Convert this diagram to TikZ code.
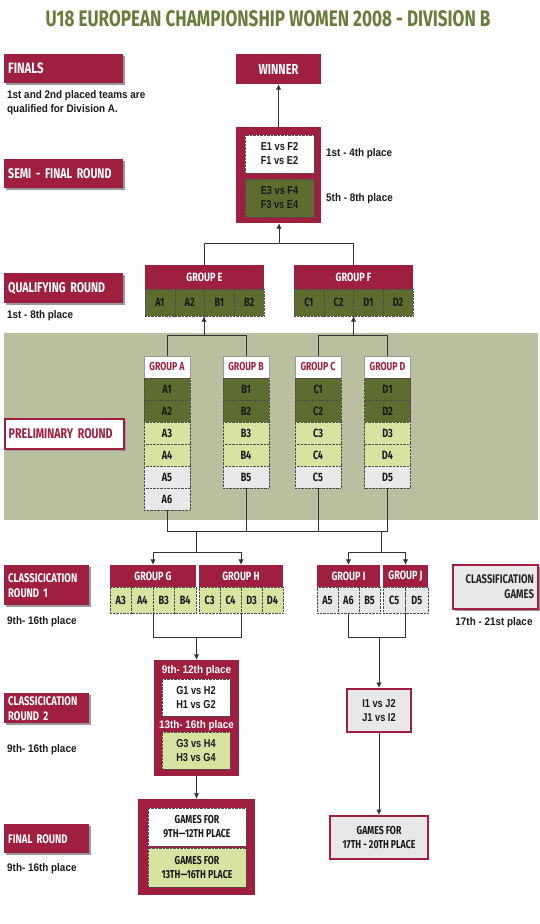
\documentclass[tikz,border=0pt]{standalone}
\usepackage{fontspec}
\newfontfamily\headfont[FakeStretch=0.76]{Fira Sans}
\newfontfamily\notefont[FakeStretch=0.9]{Liberation Sans}
\newfontfamily\vsfont[FakeStretch=0.8]{Liberation Sans}
\usetikzlibrary{arrows.meta, shadows}
\definecolor{crimson}{HTML}{9E1F40}
\definecolor{olivedk}{HTML}{5E6C2F}
\definecolor{titlegreen}{HTML}{6A7B3A}
\definecolor{lightgreen}{HTML}{D7E4A1}
\definecolor{bandgreen}{HTML}{B9BF9F}
\definecolor{lightgray}{HTML}{E8E8E8}

\begin{document}
\begin{tikzpicture}[x=1pt, y=-1pt,
    conn/.style={draw=black!80, line width=0.9pt},
    arr/.style={conn, -{Latex[length=5.5pt,width=5.5pt]}},
    lbl/.style={anchor=north west, fill=crimson, text=white, align=left,
        font=\headfont\bfseries\fontsize{14}{15}\selectfont, inner xsep=4pt, inner ysep=0pt,
        drop shadow={shadow xshift=2pt, shadow yshift=-2pt, fill=black!40, opacity=1}},
    note/.style={font=\notefont\bfseries\fontsize{11}{14}\selectfont, text=black!90, inner sep=0pt},
    redbox/.style={fill=crimson, text=white, font=\headfont\bfseries\fontsize{12}{13}\selectfont, inner sep=0pt},
    grphead/.style={draw=black!40, fill=white, text=crimson, font=\headfont\bfseries\fontsize{11.5}{12}\selectfont,
        inner sep=0pt, minimum height=22pt},
    cell/.style={draw=black!70, densely dotted, line width=0.4pt, text=black!90,
        font=\headfont\bfseries\fontsize{12}{12}\selectfont, inner sep=0pt, minimum height=22pt},
    inbox/.style={draw=black!70, densely dotted, line width=0.4pt, text=black!90, align=center,
        font=\vsfont\bfseries\fontsize{11.5}{14}\selectfont, inner sep=0pt},
    gamebox/.style={draw=black!70, densely dotted, line width=0.4pt, text=black!90, align=center,
        font=\headfont\bfseries\fontsize{11.5}{14}\selectfont, inner sep=0pt},
    row1/.style={fill=olivedk}, row2/.style={fill=olivedk},
    row3/.style={fill=lightgreen}, row4/.style={fill=lightgreen},
    row5/.style={fill=lightgray}, row6/.style={fill=lightgray}]
    \useasboundingbox (0,0) rectangle (540,924);
    % preliminary background band
    \fill[bandgreen] (4,333) rectangle (538,520);

    \node[font=\headfont\bfseries\fontsize{22.5}{24}\selectfont, text=titlegreen, inner sep=0pt] (title)
        at (268,19) {U18 EUROPEAN CHAMPIONSHIP WOMEN 2008 - DIVISION B};

    % round labels on the left
    \node[lbl, minimum width=119pt, minimum height=29pt, text width=111pt,
        font=\headfont\bfseries\fontsize{15}{15}\selectfont] (finalslbl) at (4,54) {FINALS};
    \node[note, anchor=north west, align=left] (finalsnote) at (7,90) {1st and 2nd placed teams are\\qualified for Division A.};
    \node[lbl, minimum width=119pt, minimum height=29pt, text width=111pt] (semilbl) at (4,159) {SEMI - FINAL ROUND};
    \node[lbl, minimum width=119pt, minimum height=30pt, text width=111pt] (qualilbl) at (4,273) {QUALIFYING ROUND};
    \node[note, anchor=west] (qualinote) at (7,316) {1st - 8th place};
    \node[lbl, fill=white, draw=crimson, line width=1.5pt, text=crimson, minimum width=119pt, minimum height=30pt,
        text width=111pt] (prelimlbl) at (4,418) {PRELIMINARY ROUND};
    \node[lbl, minimum width=85pt, minimum height=40pt, text width=77pt,
        font=\headfont\bfseries\fontsize{12.5}{15}\selectfont] (class1lbl) at (4,565) {CLASSICICATION\\ROUND 1};
    \node[note, anchor=west] (class1note) at (7,622) {9th- 16th place};
    \node[lbl, minimum width=85pt, minimum height=30pt, text width=77pt,
        font=\headfont\bfseries\fontsize{12.5}{15}\selectfont] (class2lbl) at (4,693) {CLASSICICATION\\ROUND 2};
    \node[note, anchor=west] (class2note) at (7,750) {9th- 16th place};
    \node[lbl, minimum width=85pt, minimum height=29pt, text width=77pt,
        font=\headfont\bfseries\fontsize{12.5}{15}\selectfont] (finallbl) at (4,824) {FINAL ROUND};
    \node[note, anchor=west] (finalnote) at (7,869) {9th- 16th place};
    \node[lbl, fill=lightgray, draw=crimson, line width=2pt, text=black!85, minimum width=85pt, minimum height=44pt,
        text width=77pt, align=right, font=\headfont\bfseries\fontsize{12.5}{15}\selectfont] (classgames) at (452,564) {CLASSIFICATION\\GAMES};
    \node[note] (classnote) at (494,623) {17th - 21st place};

    % winner and semi finals
    \node[redbox, minimum width=85pt, minimum height=30pt, font=\headfont\bfseries\fontsize{14.5}{15}\selectfont] (winner)
        at (278.5,69) {WINNER};
    \node[redbox, minimum width=85pt, minimum height=96pt] (semi) at (278.5,175) {};
    \node[inbox, fill=white, minimum width=69pt, minimum height=38pt] (semitop) at (279.5,154) {E1 vs F2\\F1 vs E2};
    \node[inbox, fill=olivedk, minimum width=69pt, minimum height=38pt] (semibot) at (279.5,198) {E3 vs F4\\F3 vs E4};
    \node[note, anchor=west] (place14) at (326,154) {1st - 4th place};
    \node[note, anchor=west] (place58) at (326,199) {5th - 8th place};

    % qualifying round
    \node[redbox, minimum width=119pt, minimum height=24pt] (qE) at (204.5,277) {GROUP E};
    \foreach \t [count=\i] in {A1,A2,B1,B2}
        \node[cell, fill=olivedk, minimum width=29.75pt, minimum height=27pt] (qE\i) at ({145+29.75*(\i-0.5)},302.5) {\t};
    \node[redbox, minimum width=119pt, minimum height=24pt] (qF) at (353.5,277) {GROUP F};
    \foreach \t [count=\i] in {C1,C2,D1,D2}
        \node[cell, fill=olivedk, minimum width=29.75pt, minimum height=27pt] (qF\i) at ({294+29.75*(\i-0.5)},302.5) {\t};

    % preliminary round
    \foreach \g/\xc/\n in {A/167/6,B/246/5,C/318/5,D/387.5/5} {
        \node[grphead, minimum width=46pt] (p\g) at (\xc,367) {GROUP \g};
        \foreach \r in {1,...,\n}
            \node[cell, row\r, minimum width=46pt] (p\g\r) at (\xc,{367+22*\r}) {\g\r};
    }

    % classification round 1
    \node[redbox, minimum width=86pt, minimum height=22pt] (cG) at (153,576) {GROUP G};
    \foreach \t [count=\i] in {A3,A4,B3,B4}
        \node[cell, fill=lightgreen, minimum width=21.5pt, minimum height=26pt] (gG\i) at ({110+21.5*(\i-0.5)},600) {\t};
    \node[redbox, minimum width=84pt, minimum height=22pt] (cH) at (241,576) {GROUP H};
    \foreach \t [count=\i] in {C3,C4,D3,D4}
        \node[cell, fill=lightgreen, minimum width=21pt, minimum height=26pt] (gH\i) at ({199+21*(\i-0.5)},600) {\t};
    \node[redbox, minimum width=63pt, minimum height=22pt] (cI) at (348.5,576) {GROUP I};
    \foreach \t [count=\i] in {A5,A6,B5}
        \node[cell, fill=lightgray, minimum width=21pt, minimum height=26pt] (gI\i) at ({317+21*(\i-0.5)},600) {\t};
    \node[redbox, minimum width=45pt, minimum height=22pt] (cJ) at (405.5,576) {GROUP J};
    \foreach \t [count=\i] in {C5,D5}
        \node[cell, fill=lightgray, minimum width=22.5pt, minimum height=26pt] (gJ\i) at ({383+22.5*(\i-0.5)},600) {\t};

    % classification round 2
    \node[redbox, minimum width=85pt, minimum height=116pt] (round2) at (196.5,718) {};
    \node[note, text=white] (r2top) at (196.5,671) {9th- 12th place};
    \node[inbox, fill=white, minimum width=68pt, minimum height=37pt] (r2a) at (196,697.5) {G1 vs H2\\H1 vs G2};
    \node[note, text=white] (r2bot) at (196.5,726) {13th- 16th place};
    \node[inbox, fill=lightgreen, minimum width=68pt, minimum height=37pt] (r2b) at (196,750.5) {G3 vs H4\\H3 vs G4};
    \node[inbox, fill=lightgray, draw=crimson, solid, line width=2pt, minimum width=64pt, minimum height=43pt] (ijbox)
        at (379,710.5) {I1 vs J2\\J1 vs I2};

    % final round
    \node[redbox, minimum width=117pt, minimum height=96pt] (final) at (196.5,847) {};
    \node[gamebox, fill=white, minimum width=98pt, minimum height=38pt] (fin9) at (197,827) {GAMES FOR\\9TH—12TH PLACE};
    \node[gamebox, fill=lightgreen, minimum width=98pt, minimum height=39pt] (fin13) at (197,867.5) {GAMES FOR\\13TH—16TH PLACE};
    \node[gamebox, fill=lightgray, draw=crimson, solid, line width=2pt, minimum width=98pt, minimum height=43pt] (fin17)
        at (379,837.5) {GAMES FOR\\17TH - 20TH PLACE};

    % connectors, top part
    \draw[arr] (semi.north) -- (winner.south);
    \draw[conn] (qE.north) -- ++(0,-21) -| (qF.north);
    \coordinate (jEF) at (279,244);
    \draw[arr] (jEF) -- (jEF |- semi.south);
    \draw[conn] (pA.north) -- ++(0,-20) -| (pB.north);
    \coordinate (jAB) at (204,336);
    \draw[arr] (jAB) -- (jAB |- qE2.south);
    \draw[conn] (pC.north) -- ++(0,-20) -| (pD.north);
    \coordinate (jCD) at (353.5,336);
    \draw[arr] (jCD) -- (jCD |- qF2.south);

    % connectors, lower part
    \coordinate (busL) at (167,531);
    \coordinate (busR) at (387.5,531);
    \draw[conn] (pA6.south) -- (busL) -- (busR) -- (pD5.south);
    \draw[conn] (pB5.south) -- (pB5.south |- busL);
    \draw[conn] (pC5.south) -- (pC5.south |- busL);
    \coordinate (jGH) at (196,531);
    \draw[conn] (jGH) -- ++(0,21) coordinate (kGH);
    \draw[arr] (kGH) -| (cG.north);
    \draw[arr] (kGH) -| (cH.north);
    \coordinate (jIJ) at (381,531);
    \draw[conn] (jIJ) -- ++(0,21) coordinate (kIJ);
    \draw[arr] (kIJ) -| (cI.north);
    \draw[arr] (kIJ) -| (cJ.north);
    \draw[conn] (gG2.south east) -- ++(0,24) -| (gH2.south east);
    \coordinate (jR2) at (196.5,637);
    \draw[arr] (jR2) -- (round2.north);
    \draw[conn] (gI2.south) -- ++(0,24) -| (gJ1.south east);
    \coordinate (jIJb) at (379,637);
    \draw[arr] (jIJb) -- (ijbox.north);
    \draw[arr] (round2.south) -- (final.north);
    \draw[arr] (ijbox.south) -- (fin17.north);
\end{tikzpicture}
\end{document}
